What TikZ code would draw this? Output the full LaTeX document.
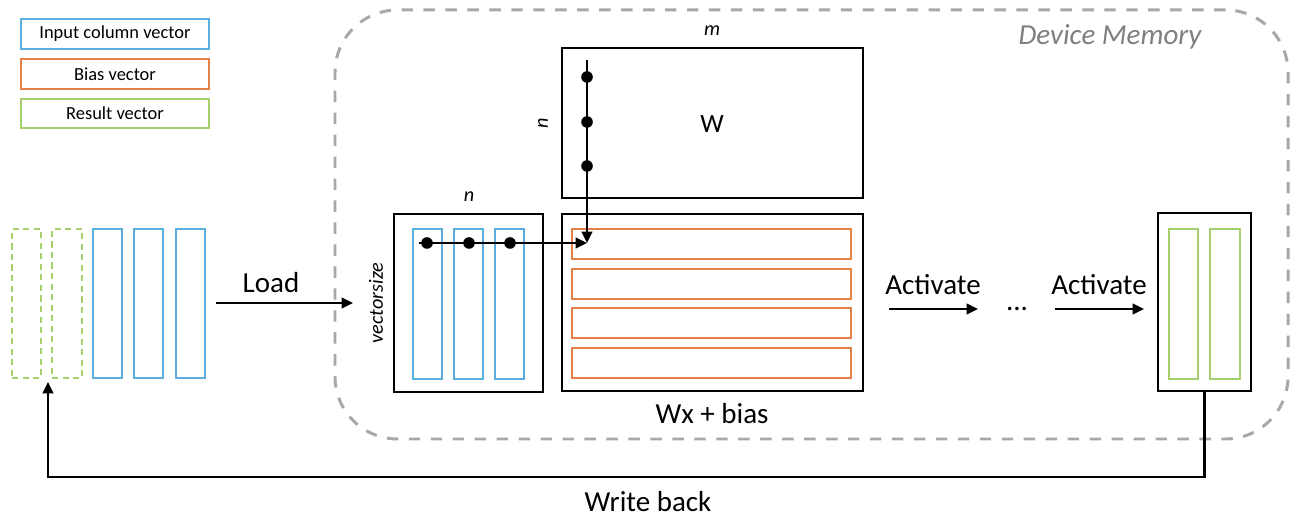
\documentclass[tikz,border=0pt]{standalone}
\usepackage{fontspec}
\setmainfont{Carlito}
\usetikzlibrary{arrows.meta}
\usetikzlibrary{positioning, fit}

\definecolor{colblue}{HTML}{5AAEE2}
\definecolor{biasorange}{HTML}{E47F45}
\definecolor{resgreen}{HTML}{A5D06D}
\definecolor{memgray}{HTML}{A8A8A8}
\definecolor{labelgray}{HTML}{7F7F7F}

\tikzset{
  frame/.style={draw=black, line width=1.3pt, inner sep=0pt},
  incol/.style={draw=colblue, line width=0.9pt, inner sep=0pt},
  biasrow/.style={draw=biasorange, line width=0.9pt, inner sep=0pt},
  rescol/.style={draw=resgreen, line width=0.9pt, inner sep=0pt},
  oldcol/.style={rescol, line width=0.8pt, dash pattern=on 3.5pt off 2.5pt},
  legbox/.style={line width=0.9pt, inner sep=0pt},
  legtext/.style={font=\fontsize{10.5}{12}\selectfont},
  memory/.style={draw=memgray, line width=1.7pt, dash pattern=on 6.5pt off 6pt, rounded corners=1.25cm, inner sep=0pt},
  memlabel/.style={text=labelgray, font=\itshape\fontsize{16.5}{20}\selectfont, anchor=base},
  dot/.style={circle, fill=black, inner sep=0pt, minimum size=6.6pt},
  flow/.style={line width=1.3pt, -{Triangle[length=6.5pt,width=6pt]}},
  big/.style={font=\fontsize{16.5}{20}\selectfont, anchor=base},
  dim/.style={font=\itshape\fontsize{11.5}{14}\selectfont},
}

\begin{document}
\begin{tikzpicture}[x=0.02cm, y=-0.02cm]
  \useasboundingbox (0,0) rectangle (1297,519);

  % legend
  \node[legbox, draw=colblue, fit={(21,19) (209,49)}] (legin) {};
  \node[legbox, draw=biasorange, fit={(21,59) (209,89)}] (legbias) {};
  \node[legbox, draw=resgreen, fit={(21,99) (209,128)}] (legres) {};
  \node[legtext] at (legin.center) {Input column vector};
  \node[legtext] at (legbias.center) {Bias vector};
  \node[legtext] at (legres.center) {Result vector};

  % device memory
  \node[memory, fit={(335,10) (1288,439)}] (mem) {};
  \node[memlabel] (memlab) at (1110,45) {Device Memory};

  % weight matrix
  \node[frame, fit={(562,48) (863,198)}] (wmat) {};
  \node[font=\fontsize{15}{18}\selectfont, anchor=base] (wlab) at (712,133) {W};
  \node[dim] (mlab) at (712,31) {m};
  \node[dim, rotate=90] (nrow) at (543,123) {n};

  % input vectors on the device
  \node[frame, fit={(394,214) (543,392)}] (inbox) {};
  \foreach \i/\x in {1/413, 2/454, 3/495}
    \node[incol, fit={(\x,229) (\x+29,379)}] (in\i) {};
  \node[dim] (ncol) at (469,197) {n};
  \node[dim, rotate=90] (vsize) at (376,303) {vectorsize};

  % Wx + bias
  \node[frame, fit={(562,214) (863,391)}] (wxb) {};
  \foreach \i/\y in {1/229, 2/269, 3/308, 4/348}
    \node[biasrow, fit={(572,\y) (851,\y+30)}] (bias\i) {};
  \node[big] (wxlab) at (712,424) {Wx + bias};

  % result
  \node[frame, fit={(1158,213) (1251,391)}] (res) {};
  \node[rescol, fit={(1169,229) (1198,379)}] (res1) {};
  \node[rescol, fit={(1210,229) (1240,379)}] (res2) {};

  % host side
  \node[oldcol, fit={(12,229) (41,378)}] (old1) {};
  \node[oldcol, fit={(52,229) (82,378)}] (old2) {};
  \foreach \i/\x in {1/93, 2/134, 3/176}
    \node[incol, fit={(\x,229) (\x+29,378)}] (host\i) {};

  % multiply
  \coordinate (wtop) at (587,60);
  \coordinate (xstart) at (419,243);
  \coordinate (hit) at (587,243);
  \draw[flow] (wtop) -- (hit);
  \draw[flow] (xstart) -- (hit);
  \foreach \y [count=\i] in {77,122,166}
    \node[dot] (wd\i) at (587,\y) {};
  \foreach \x [count=\i] in {427,469,510}
    \node[dot] (xd\i) at (\x,243) {};

  % load
  \coordinate (loadS) at (216,303);
  \coordinate (loadE) at (353,303);
  \draw[flow] (loadS) -- (loadE);
  \node[big] (loadlab) at (271,293) {Load};

  % activate
  \coordinate (act1S) at (889,309);
  \coordinate (act1E) at (978,309);
  \coordinate (act2S) at (1055,309);
  \coordinate (act2E) at (1144,309);
  \draw[flow] (act1S) -- (act1E);
  \draw[flow] (act2S) -- (act2E);
  \node[big] (act1lab) at (933,295) {Activate};
  \node[big] (act2lab) at (1099,295) {Activate};
  \node[big] (more) at (1017,311) {...};

  % write back
  \coordinate (wbend) at (48,382);
  \draw[flow] (res.south) -- ++(0,85) -| (wbend);
  \node[big] (wblab) at (648,512) {Write back};
\end{tikzpicture}
\end{document}
